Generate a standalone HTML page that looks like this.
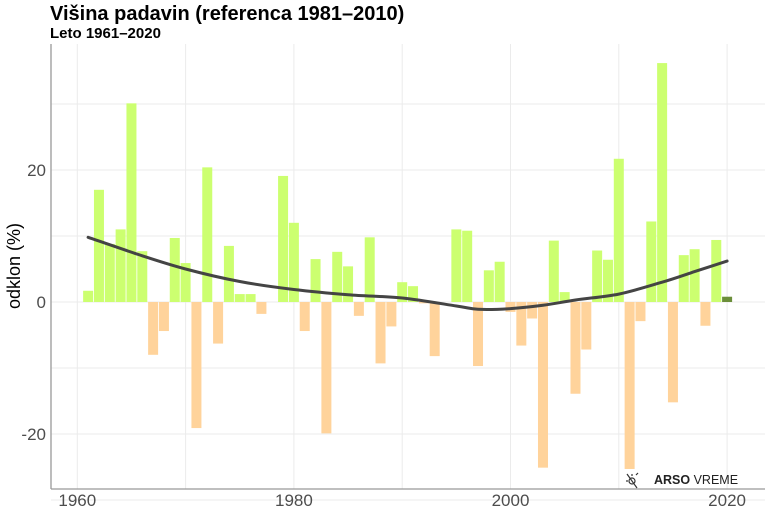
<!DOCTYPE html>
<html><head><meta charset="utf-8"><style>
html,body{margin:0;padding:0;background:#fff;}
svg{display:block;font-family:"Liberation Sans",sans-serif;}
</style></head><body>
<svg id="s" width="768" height="512" viewBox="0 0 768 512" xmlns="http://www.w3.org/2000/svg">
<text x="50" y="20" font-size="20" font-weight="bold" fill="#000">Višina padavin (referenca 1981–2010)</text>
<text x="50" y="38" font-size="15" font-weight="bold" fill="#000">Leto 1961–2020</text>
<g id="grid" stroke="#ebebeb" stroke-width="1"></g>
<g id="bars"></g>
<path id="trend" fill="none" stroke="#444" stroke-width="3" stroke-linecap="round" stroke-linejoin="round"/>
<line x1="51" y1="44" x2="51" y2="489" stroke="#999" stroke-width="1.3"/>
<line x1="51" y1="489" x2="765" y2="489" stroke="#999" stroke-width="1.3"/>
<g id="labels" font-size="17" fill="#4d4d4d"></g>
<text transform="translate(20,266) rotate(-90)" text-anchor="middle" font-size="18" fill="#000">odklon (%)</text>
<g stroke="#333" stroke-width="1.2" fill="none">
<circle cx="632" cy="481" r="3"/>
<line x1="627" y1="474" x2="637" y2="488"/><line x1="626" y1="481" x2="628" y2="481"/><line x1="636" y1="475" x2="638" y2="473"/><line x1="632" y1="474" x2="632" y2="476"/>
</g>
<text x="654" y="484" font-size="12.5" fill="#222"><tspan font-weight="bold">ARSO</tspan> VREME</text>
</svg>
<script>
var ns="http://www.w3.org/2000/svg";
function X(yr){return 77.3+(yr-1960)*10.83;}
function Y(v){return 302-v*6.6;}
function el(t,a,p){var e=document.createElementNS(ns,t);for(var k in a)e.setAttribute(k,a[k]);document.getElementById(p).appendChild(e);return e;}
[-30,-20,-10,0,10,20,30].forEach(function(v){el("line",{x1:51,x2:765,y1:Y(v),y2:Y(v)},"grid");});
for(var yr=1960;yr<=2020;yr+=10){el("line",{x1:X(yr),x2:X(yr),y1:44,y2:489},"grid");}
var d=[1.7,17.0,8.8,11.0,30.1,7.7,-8.0,-4.4,9.7,5.9,-19.1,20.4,-6.3,8.5,1.2,1.2,-1.8,0,19.1,12.0,-4.4,6.5,-19.9,7.6,5.4,-2.1,9.8,-9.3,-3.7,3.0,2.4,-0.2,-8.2,0,11.0,10.8,-9.7,4.8,6.1,-1.5,-6.6,-2.5,-25.1,9.3,1.5,-13.9,-7.2,7.8,6.4,21.7,-25.3,-2.9,12.2,36.2,-15.2,7.1,8.0,-3.6,9.4,0.8];
d.forEach(function(v,i){var yr=1961+i;var c=yr==2020?"#6b8e3a":(v>=0?"#ccff70":"#ffd39b");
var y0=Y(Math.max(v,0)),h=Math.abs(v)*6.6;if(h<0.1)return;
el("rect",{x:X(yr)-5,y:y0,width:10,height:h,fill:c},"bars");});
var t=[[1961,9.8],[1966,7.0],[1970,5.0],[1975,3.1],[1980,1.9],[1985,1.1],[1990,0.6],[1995,-0.6],[1997,-1.1],[2000,-1.0],[2003,-0.5],[2006,0.3],[2010,1.2],[2014,3.0],[2017,4.6],[2020,6.2]];
var P=t.map(function(q){return [X(q[0]),Y(q[1])];});
var p="M"+P[0][0].toFixed(1)+","+P[0][1].toFixed(1);
for(var i=0;i<P.length-1;i++){var p0=P[Math.max(i-1,0)],p1=P[i],p2=P[i+1],p3=P[Math.min(i+2,P.length-1)];
var c1=[p1[0]+(p2[0]-p0[0])/6,p1[1]+(p2[1]-p0[1])/6],c2=[p2[0]-(p3[0]-p1[0])/6,p2[1]-(p3[1]-p1[1])/6];
p+="C"+c1[0].toFixed(1)+","+c1[1].toFixed(1)+" "+c2[0].toFixed(1)+","+c2[1].toFixed(1)+" "+p2[0].toFixed(1)+","+p2[1].toFixed(1);}
document.getElementById("trend").setAttribute("d",p);
[1960,1980,2000,2020].forEach(function(yr){var e=el("text",{x:X(yr),y:506,"text-anchor":"middle"},"labels");e.textContent=yr;});
[[-20,"-20"],[0,"0"],[20,"20"]].forEach(function(q){var e=el("text",{x:46,y:Y(q[0])+6,"text-anchor":"end"},"labels");e.textContent=q[1];});
</script>
</body></html>
